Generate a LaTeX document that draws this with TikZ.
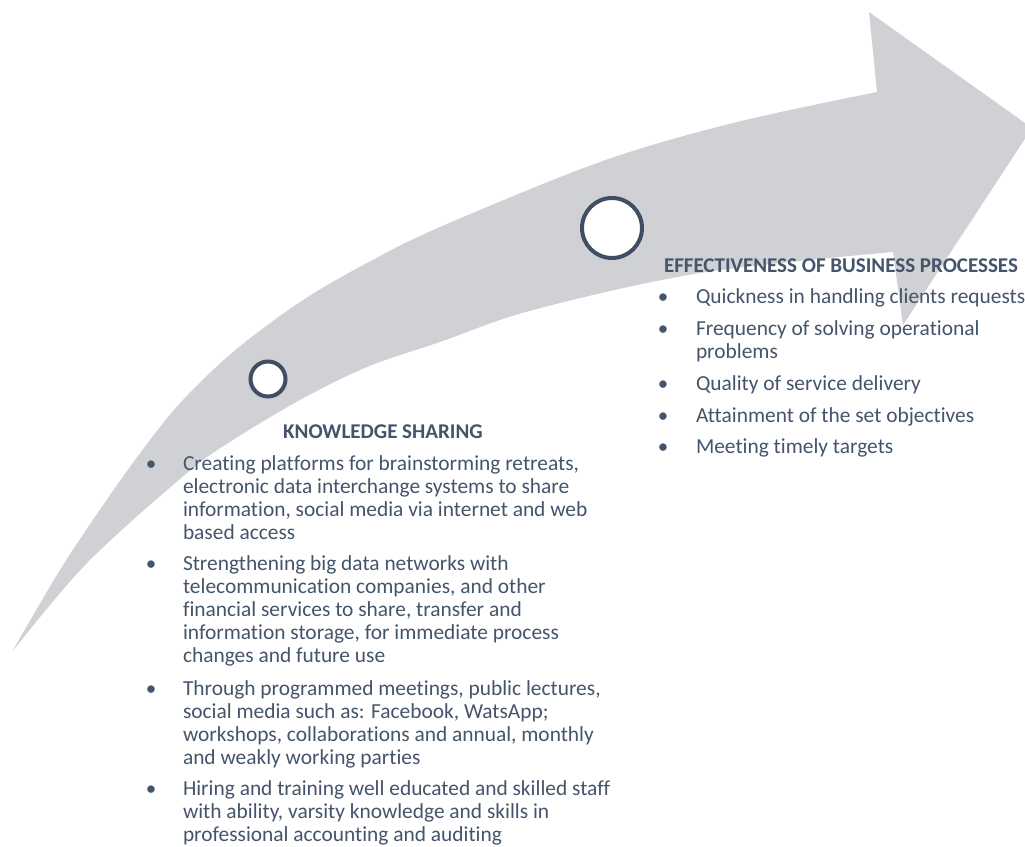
\documentclass[tikz,border=0pt]{standalone}
\usepackage{fontspec}
\setmainfont{Carlito}[Ligatures={NoCommon,NoContextual,NoRare}, Contextuals=NoAlternate]
\definecolor{arrowgray}{RGB}{208,209,213}
\definecolor{txt}{RGB}{68,84,106}
\definecolor{ring}{RGB}{63,78,99}
\begin{document}
\begin{tikzpicture}[x=1pt,y=-1pt,
  itemstyle/.style={inner sep=0pt, outer sep=0pt, text=txt, font=\fontsize{21.4}{23}\selectfont, anchor=base west},
  headstyle/.style={inner sep=0pt, outer sep=0pt, text=txt, font=\fontsize{21}{23}\selectfont\bfseries},
  bulletstyle/.style={inner sep=0pt, outer sep=0pt, text=txt, font=\fontsize{21}{23}\selectfont, anchor=base},
  ringstyle/.style={circle, draw=ring, line width=4pt, fill=white, inner sep=0pt}]
\useasboundingbox (0,0) rectangle (1025,846);
\begin{scope}
\clip (0,0) rectangle (1025,846);
\fill[arrowgray] plot[smooth, tension=0.55] coordinates {(12,652) (60,570) (110,495) (150,440) (183,400) (233,352) (300,302) (367,263) (440,227) (600,162) (733,123) (877,92)}
  -- (869,12) -- (1032,128) -- (903,325) -- (893,252)
  -- plot[smooth, tension=0.55] coordinates {(893,252) (700,273) (533,310) (440,342) (367,367) (300,400) (233,440) (187,473) (87,563) (12,652)} -- cycle;
\end{scope}
\node[ringstyle, minimum size=35pt] (r1) at (268,379) {};
\node[ringstyle, minimum size=60pt] (r2) at (612,228) {};

% Knowledge sharing
\node[headstyle, anchor=base] (kh) at (383,438) {KNOWLEDGE SHARING};
\node[bulletstyle] (kb1) at (151,470) {•};
\node[itemstyle] (k1) at (183,470) {\begin{tabular}[t]{@{}l@{}}Creating platforms for brainstorming retreats,\\electronic data interchange systems to share\\information, social media via internet and web\\based access\end{tabular}};
\node[bulletstyle] (kb2) at (151,570) {•};
\node[itemstyle] (k2) at (183,570) {\begin{tabular}[t]{@{}l@{}}Strengthening big data networks with\\telecommunication companies, and other\\financial services to share, transfer and\\information storage, for immediate process\\changes and future use\end{tabular}};
\node[bulletstyle] (kb3) at (151,695) {•};
\node[itemstyle] (k3) at (183,695) {\begin{tabular}[t]{@{}l@{}}Through programmed meetings, public lectures,\\social media such as: Facebook, WatsApp;\\workshops, collaborations and annual, monthly\\and weakly working parties\end{tabular}};
\node[bulletstyle] (kb4) at (151,795) {•};
\node[itemstyle] (k4) at (183,795) {\begin{tabular}[t]{@{}l@{}}Hiring and training well educated and skilled staff\\with ability, varsity knowledge and skills in\\professional accounting and auditing\end{tabular}};

% Effectiveness
\node[headstyle, anchor=base west] (eh) at (664,272) {EFFECTIVENESS OF BUSINESS PROCESSES};
\node[bulletstyle] (eb1) at (663,303) {•};
\node[itemstyle] (e1) at (696,303) {Quickness in handling clients requests};
\node[bulletstyle] (eb2) at (663,335) {•};
\node[itemstyle] (e2) at (696,335) {\begin{tabular}[t]{@{}l@{}}Frequency of solving operational\\problems\end{tabular}};
\node[bulletstyle] (eb3) at (663,390) {•};
\node[itemstyle] (e3) at (696,390) {Quality of service delivery};
\node[bulletstyle] (eb4) at (663,422) {•};
\node[itemstyle] (e4) at (696,422) {Attainment of the set objectives};
\node[bulletstyle] (eb5) at (663,453) {•};
\node[itemstyle] (e5) at (696,453) {Meeting timely targets};
\end{tikzpicture}
\end{document}
